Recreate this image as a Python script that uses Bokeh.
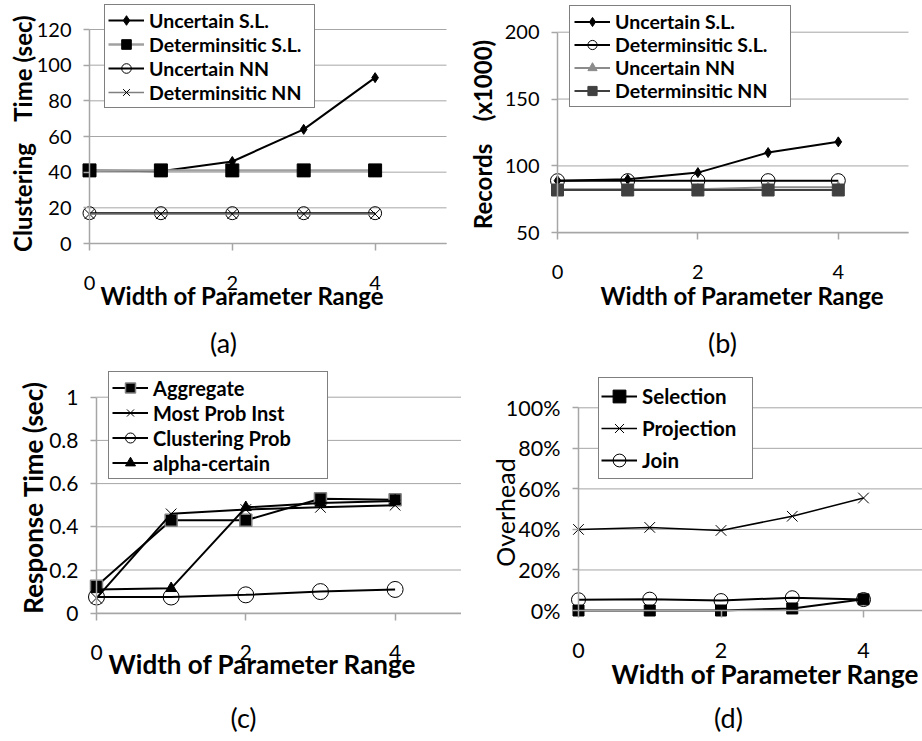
import math
from bokeh.plotting import figure
from bokeh.models import (Range1d, FixedTicker, Label, Legend, LegendItem,
                          NumeralTickFormatter, CustomJSTickFormatter)
from bokeh.layouts import column, row
from bokeh.embed import file_html
from bokeh.resources import INLINE

# ---------------- data ----------------
widths = [0, 1, 2, 3, 4]
x_ticks = [0, 2, 4]
x_max = 5

# (a) clustering time (sec)
a_unc_sl = [41, 40.5, 46, 64, 93]
a_det_sl = [41, 41, 41, 41, 41]
a_unc_nn = [17, 17, 17, 17, 17]
a_det_nn = [16.5, 16.5, 16.5, 16.5, 16.5]
a_yticks = [0, 20, 40, 60, 80, 100, 120]

# (b) records (x1000)
b_unc_sl = [89, 90, 95, 110, 118]
b_det_sl = [89, 89, 89, 89, 89]
b_unc_nn = [82.5, 82.5, 82.5, 84, 84]
b_det_nn = [82, 82, 82, 82, 82]
b_yticks = [50, 100, 150, 200]

# (c) response time (sec)
c_aggregate = [0.125, 0.43, 0.43, 0.53, 0.525]
c_most_prob = [0.07, 0.46, 0.48, 0.49, 0.50]
c_clust_prob = [0.075, 0.075, 0.085, 0.10, 0.11]
c_alpha = [0.11, 0.115, 0.49, 0.51, 0.52]
c_yticks = [0, 0.2, 0.4, 0.6, 0.8, 1.0]

# (d) overhead
d_selection = [0.0, 0.0, 0.0, 0.01, 0.055]
d_projection = [0.40, 0.41, 0.395, 0.465, 0.555]
d_join = [0.053, 0.056, 0.049, 0.063, 0.054]
d_yticks = [0, 0.2, 0.4, 0.6, 0.8, 1.0]

FONT = "Lato"
GRID = "#a6a6a6"
TITLE = "Width of Parameter Range"


class Panel:
    """One sub-chart; the plotting frame fills the whole figure and the axes are
    fixed at x=0 / y=min so that nothing outside the data area gets clipped.
    Geometry is given in page pixels (ox, oy = figure's top-left corner)."""

    def __init__(self, ox, oy, w, h, fl, ppx, va, pa, vb, pb, yticks, fmt, tick_size="20px"):
        self.ox, self.oy, self.w, self.h = ox, oy, w, h
        self.fl, self.ppx, self.va, self.pa = fl, ppx, va, pa
        self.ppy = (pa - pb) / (vb - va)
        x0 = (ox - fl) / ppx
        x1 = (ox + w - fl) / ppx
        y0 = va - (oy + h - pa) / self.ppy
        y1 = va + (pa - oy) / self.ppy
        p = figure(width=w, height=h, x_range=Range1d(x0, x1), y_range=Range1d(y0, y1),
                   output_backend="svg", toolbar_location=None, min_border=0)
        p.outline_line_color = None
        p.background_fill_color = "white"
        p.border_fill_color = "white"
        p.xgrid.visible = False
        p.ygrid.visible = False
        # horizontal grid lines, from the tick values
        p.segment(x0=[0] * len(yticks), y0=yticks, x1=[x_max] * len(yticks), y1=yticks,
                  line_color=GRID, line_width=1)
        for ax in (p.xaxis[0], p.yaxis[0]):
            ax.axis_line_color = GRID
            ax.axis_line_width = 1.5
            ax.major_tick_line_color = GRID
            ax.major_tick_line_width = 1.5
            ax.major_tick_in = 0
            ax.minor_tick_line_color = None
            ax.major_label_text_font = FONT
            ax.major_label_text_font_size = tick_size
            ax.major_label_text_color = "black"
        xa = p.xaxis[0]
        xa.ticker = FixedTicker(ticks=x_ticks)
        xa.fixed_location = yticks[0]
        xa.bounds = (0, x_max)
        xa.major_tick_out = 7
        xa.major_label_standoff = 25
        xa.formatter = CustomJSTickFormatter(code="return String(tick)")
        ya = p.yaxis[0]
        ya.ticker = FixedTicker(ticks=yticks)
        ya.fixed_location = 0
        ya.bounds = (yticks[0], yticks[-1])
        ya.major_tick_out = 6
        ya.major_label_standoff = 12
        ya.formatter = fmt
        self.p = p

    def to_data(self, xr, yr):
        return (xr - self.fl) / self.ppx, self.va + (self.pa - yr) / self.ppy

    def text(self, xr, yr, txt, size, bold=False, angle=0):
        xd, yd = self.to_data(xr, yr)
        self.p.add_layout(Label(x=xd, y=yd, text=txt, angle=angle,
                                text_font=FONT, text_font_size=size,
                                text_font_style="bold" if bold else "normal",
                                text_align="center", text_baseline="middle",
                                text_color="black"))

    def legend(self, items, left_ref, bottom_ref, box_w, row_h, fsize="19.5px", pad=4):
        lg = Legend(items=items,
                    location=(left_ref - self.ox, self.oy + self.h - bottom_ref))
        lg.label_text_font = FONT
        lg.label_text_font_style = "bold"
        lg.label_text_font_size = fsize
        lg.label_text_color = "black"
        lg.glyph_width = 36
        lg.glyph_height = row_h
        lg.label_height = row_h
        lg.label_standoff = 5
        lg.label_width = box_w - 2 * pad - 36 - 5
        lg.spacing = 0
        lg.padding = pad
        lg.margin = 0
        lg.border_line_color = "black"
        lg.border_line_width = 1.5
        lg.background_fill_color = "white"
        lg.background_fill_alpha = 1
        self.p.add_layout(lg)


def series(p, ys, line_color, line_width, marker, size, fill, mline="black", mlw=1):
    l = p.line(widths, ys, line_color=line_color, line_width=line_width)
    s = p.scatter(widths, ys, marker=marker, size=size, fill_color=fill,
                  line_color=mline, line_width=mlw)
    return [l, s]


num_fmt = CustomJSTickFormatter(code="return String(tick)")
VERT = math.pi / 2

# ---------------- (a) ----------------
A = Panel(0, 0, 461, 370, 89, 71.4, 0, 243, 120, 29, a_yticks, num_fmt)
pa = A.p
ra1 = series(pa, a_unc_sl, "black", 2, "diamond", 10, "black")
ra2 = series(pa, a_det_sl, "#a0a0a0", 2.5, "square", 13, "black")
ra3 = series(pa, a_unc_nn, "black", 2, "circle", 13, None)
ra4 = series(pa, a_det_nn, "#808080", 1.5, "x", 14, None)
A.legend([LegendItem(label="Uncertain S.L.", renderers=ra1),
          LegendItem(label="Determinsitic S.L.", renderers=ra2),
          LegendItem(label="Uncertain NN", renderers=ra3),
          LegendItem(label="Determinsitic NN", renderers=ra4)], 104, 108, 209, 24, pad=3)
A.text(22, 197, "Clustering", "24px", True, VERT)
A.text(22, 68, "Time (sec)", "24px", True, VERT)
A.text(242, 295, TITLE, "24px", True)
A.text(223, 342, "(a)", "27px")

# ---------------- (b) ----------------
B = Panel(461, 0, 461, 370, 557, 70.2, 50, 232.3, 200, 31.7, b_yticks, num_fmt)
pb = B.p
rb1 = series(pb, b_unc_sl, "black", 2, "diamond", 10, "black")
rb2 = series(pb, b_det_sl, "black", 2, "circle", 14, None)
rb3 = series(pb, b_unc_nn, "#8c8c8c", 2, "triangle", 10, "#8c8c8c", "#8c8c8c")
rb4 = series(pb, b_det_nn, "#404040", 2, "square", 12, "#404040", "#404040")
B.legend([LegendItem(label="Uncertain S.L.", renderers=rb1),
          LegendItem(label="Determinsitic S.L.", renderers=rb2),
          LegendItem(label="Uncertain NN", renderers=rb3),
          LegendItem(label="Determinsitic NN", renderers=rb4)], 569, 107, 220, 23, pad=4)
B.text(482, 186, "Records", "24px", True, VERT)
B.text(482, 80, "(x1000)", "24px", True, VERT)
B.text(742, 295, TITLE, "24px", True)
B.text(722, 342, "(b)", "27px")

# ---------------- (c) ----------------
C = Panel(0, 370, 461, 371, 96, 74.65, 0, 612.7, 1, 396.7, c_yticks, num_fmt, "21px")
pc = C.p
rc1 = series(pc, c_aggregate, "black", 2, "square", 12, "black", "#808080", 1.5)
rc2 = series(pc, c_most_prob, "black", 2, "x", 15, None)
rc3 = series(pc, c_clust_prob, "black", 2, "circle", 16, None)
rc4 = series(pc, c_alpha, "black", 2, "triangle", 11, "black")
C.legend([LegendItem(label="Aggregate", renderers=rc1),
          LegendItem(label="Most Prob Inst", renderers=rc2),
          LegendItem(label="Clustering Prob", renderers=rc3),
          LegendItem(label="alpha-certain", renderers=rc4)], 108, 479, 218, 25,
         "20px", 3)
C.text(32, 497, "Response Time (sec)", "26px", True, VERT)
C.text(262, 663, TITLE, "26px", True)
C.text(243, 717, "(c)", "27px")

# ---------------- (d) ----------------
D = Panel(461, 370, 461, 371, 578, 71.25, 0, 610, 1, 407.3, d_yticks,
          NumeralTickFormatter(format="0%"), "21.5px")
pd_ = D.p
rd1 = series(pd_, d_selection, "black", 2, "square", 11, "black")
rd2 = series(pd_, d_projection, "black", 1.5, "x", 15, None)
rd3 = series(pd_, d_join, "black", 2, "circle", 14, None)
D.legend([LegendItem(label="Selection", renderers=rd1),
          LegendItem(label="Projection", renderers=rd2),
          LegendItem(label="Join", renderers=rd3)], 598, 479, 153, 32, "20.5px", 2)
D.text(504, 512, "Overhead", "25px", False, VERT)
D.text(765, 673, TITLE, "26px", True)
D.text(728, 717, "(d)", "27px")

layout = column(row(pa, pb), row(pc, pd_))
open("out.html", "w").write(file_html(layout, INLINE))
